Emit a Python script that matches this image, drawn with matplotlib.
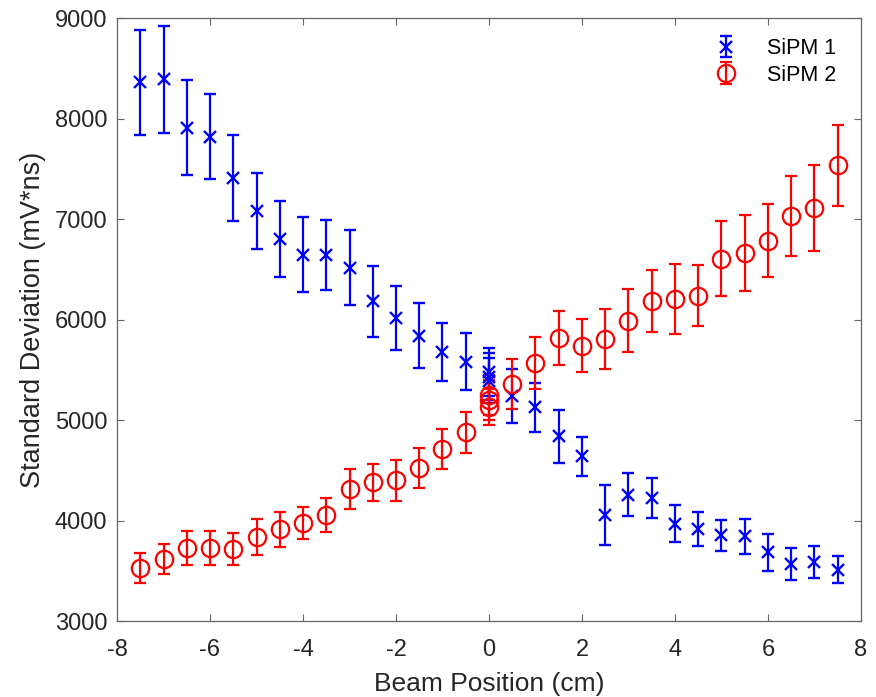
import matplotlib
matplotlib.use("Agg")
import matplotlib.pyplot as plt
import numpy as np

plt.rcParams['font.family'] = ['Liberation Sans', 'DejaVu Sans']

# SiPM 1 (blue)
x1 = [-7.5, -7, -6.5, -6, -5.5, -5, -4.5, -4, -3.5, -3, -2.5, -2, -1.5, -1, -0.5,
      0, 0, 0, 0.5, 1, 1.5, 2, 2.5, 3, 3.5, 4, 4.5, 5, 5.5, 6, 6.5, 7, 7.5]
y1 = [8360, 8390, 7910, 7820, 7410, 7080, 6800, 6645, 6645, 6515, 6180, 6015, 5840, 5675, 5580,
      5480, 5430, 5390, 5236, 5125, 4836, 4637, 4055, 4258, 4220, 3970, 3915, 3852, 3842, 3683, 3567, 3587, 3512]
e1 = [520, 535, 470, 420, 425, 375, 375, 375, 350, 375, 350, 315, 325, 290, 282,
      240, 235, 225, 270, 247, 262, 195, 295, 210, 200, 187, 170, 153, 173, 187, 160, 161, 134]

# SiPM 2 (red)
x2 = [-7.5, -7, -6.5, -6, -5.5, -5, -4.5, -4, -3.5, -3, -2.5, -2, -1.5, -1, -0.5,
      0, 0, 0, 0.5, 1, 1.5, 2, 2.5, 3, 3.5, 4, 4.5, 5, 5.5, 6, 6.5, 7, 7.5]
y2 = [3527, 3620, 3726, 3728, 3716, 3835, 3911, 3975, 4057, 4313, 4382, 4399, 4521, 4710, 4876,
      5250, 5200, 5130, 5357, 5566, 5815, 5741, 5805, 5990, 6186, 6205, 6238, 6603, 6660, 6786, 7031, 7110, 7535]
e2 = [150, 148, 170, 170, 155, 180, 170, 155, 170, 195, 183, 207, 198, 202, 206,
      200, 200, 180, 245, 255, 268, 267, 300, 310, 310, 350, 300, 373, 377, 360, 397, 430, 405]

labels = ['SiPM 1', 'SiPM 2']
xticks = [-8, -6, -4, -2, 0, 2, 4, 6, 8]
yticks = [3000, 4000, 5000, 6000, 7000, 8000, 9000]

fig = plt.figure(figsize=(8.76, 6.97), dpi=100)
ax = fig.add_axes([117/876, 1 - 621/697, (861-117)/876, (621-18)/697])

ax.errorbar(x1, y1, yerr=e1, fmt='x', color=(0, 0, 1), ecolor=(0, 0, 1),
            markersize=8.5, markeredgewidth=1.7, elinewidth=1.6, capsize=4.3, capthick=1.6,
            label=labels[0])
ax.errorbar(x2, y2, yerr=e2, fmt='o', color=(1, 0, 0), ecolor=(1, 0, 0),
            markersize=12.5, markerfacecolor='none', markeredgewidth=1.6,
            elinewidth=1.6, capsize=4.3, capthick=1.6, label=labels[1])

ax.set_xlim(-8, 8)
ax.set_ylim(3000, 9000)
ax.set_xticks(xticks)
ax.set_yticks(yticks)
ax.set_xticklabels([str(t) for t in xticks])
ax.set_yticklabels([str(t) for t in yticks])

axcol = (0.15, 0.15, 0.15)
for s in ax.spines.values():
    s.set_color((0.4, 0.4, 0.4))
    s.set_linewidth(0.9)
ax.tick_params(direction='in', length=5, width=0.8, colors=(0.4, 0.4, 0.4),
               labelcolor=axcol, labelsize=17, top=True, right=True)
ax.tick_params(axis='x', pad=13)
ax.tick_params(axis='y', pad=7)

ax.set_xlabel('Beam Position (cm)', fontsize=19, color=axcol, labelpad=8)
ax.set_ylabel('Standard Deviation (mV*ns)', fontsize=19.5, color=axcol, labelpad=6)

leg = ax.legend(loc='upper right', bbox_to_anchor=(0.99, 0.995), frameon=False,
                fontsize=15.5, handlelength=1.0, handletextpad=1.4,
                borderaxespad=0.5, labelspacing=0.25, borderpad=0.3)

fig.savefig('out.png', dpi=100)
